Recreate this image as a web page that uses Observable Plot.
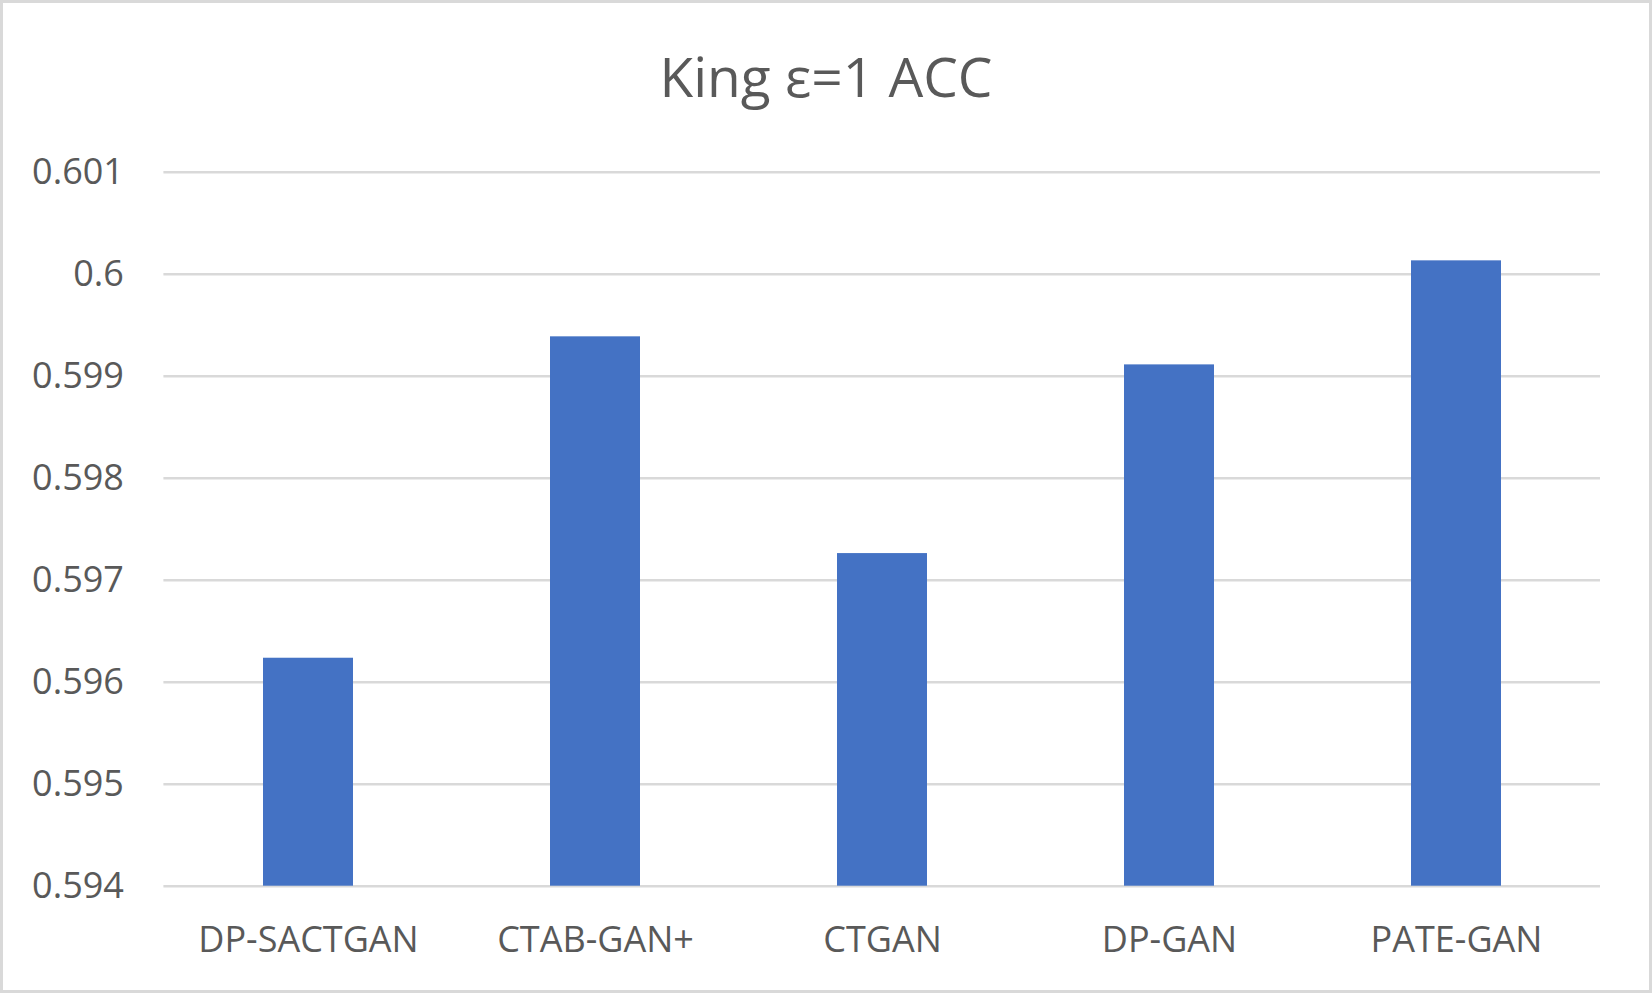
<!DOCTYPE html>
<html>
<head>
<meta charset="utf-8">
<script src="https://cdn.jsdelivr.net/npm/d3@7"></script>
<script src="https://cdn.jsdelivr.net/npm/@observablehq/plot@0.6"></script>
<style>
  html, body { margin: 0; padding: 0; background: #fff; }
  #wrap { position: relative; width: 1652px; height: 993px; background: #fff; overflow: hidden; }
  #title { position: absolute; left: 0; top: 0; width: 1652px; height: 120px; text-align: center;
           font-family: "Open Sans", sans-serif; font-size: 55px; line-height: 55px; color: #595959;
           padding-top: 48px; box-sizing: border-box; }
  #chart { position: absolute; left: 0; top: 120px; }
  #frame { position: absolute; left: 0; top: 0; width: 1652px; height: 993px; box-sizing: border-box;
           border: 3px solid #d9d9d9; pointer-events: none; }
</style>
</head>
<body>
<div id="wrap">
  <div id="title">King ε=1 ACC</div>
  <div id="chart"></div>
  <div id="frame"></div>
</div>
<script>
const categories = ["DP-SACTGAN", "CTAB-GAN+", "CTGAN", "DP-GAN", "PATE-GAN"];
const values = [0.596235, 0.599386, 0.597261, 0.599111, 0.600131];
const yTicks = [0.594, 0.595, 0.596, 0.597, 0.598, 0.599, 0.6, 0.601];
const yTickLabels = ["0.594", "0.595", "0.596", "0.597", "0.598", "0.599", "0.6", "0.601"];

const data = categories.map((c, i) => ({category: c, value: values[i]}));
const yMin = yTicks[0];

const chart = Plot.plot({
  width: 1652,
  height: 873,
  marginTop: 51.7,
  marginBottom: 107.3,
  marginLeft: 163.4,
  marginRight: 52,
  style: {fontFamily: "'Open Sans', sans-serif", background: "transparent", color: "#595959", overflow: "visible"},
  x: {domain: categories, paddingInner: 0.687, paddingOuter: 0.3435, label: null},
  y: {domain: [yTicks[0], yTicks[yTicks.length - 1]], label: null},
  marks: [
    Plot.ruleY(yTicks, {stroke: "#d9d9d9", strokeWidth: 2.5}),
    Plot.barY(data, {x: "category", y1: yMin, y2: "value", fill: "#4472C4"}),
    Plot.axisY({ticks: yTicks, tickSize: 0, tickPadding: 40, fontSize: 36, fill: "#595959",
                tickFormat: (d) => yTickLabels[yTicks.indexOf(d)], label: null}),
    Plot.axisX({tickSize: 0, tickPadding: 40, fontSize: 36, fill: "#595959", label: null})
  ]
});
document.getElementById("chart").appendChild(chart);
</script>
</body>
</html>
